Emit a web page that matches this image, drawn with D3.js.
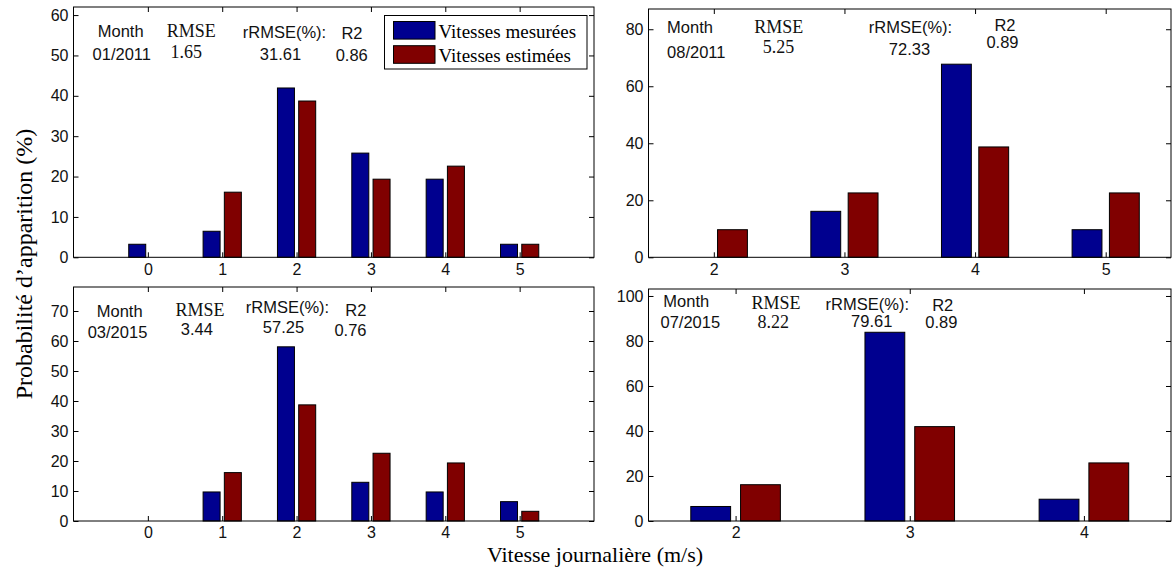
<!DOCTYPE html>
<html>
<head>
<meta charset="utf-8">
<script src="https://cdn.jsdelivr.net/npm/d3@7"></script>
<style>
  html, body { margin: 0; padding: 0; background: #fff; }
  svg { display: block; }
  .sans { font-family: "Liberation Sans", Arial, sans-serif; }
  .serif { font-family: "Liberation Serif", "Times New Roman", serif; }
</style>
</head>
<body>
<svg id="chart" width="1176" height="567"></svg>
<script>
// Daily wind-speed classes (m/s) and occurrence probabilities (%) per month
const speedsJan2011 = [0, 1, 2, 3, 4, 5];
const measuredJan2011 = [3.23, 6.45, 41.94, 25.81, 19.35, 3.23];
const estimatedJan2011 = [0, 16.13, 38.71, 19.35, 22.58, 3.23];

const speedsAug2011 = [2, 3, 4, 5];
const measuredAug2011 = [0, 16.13, 67.74, 9.68];
const estimatedAug2011 = [9.68, 22.58, 38.71, 22.58];

const speedsMar2015 = [0, 1, 2, 3, 4, 5];
const measuredMar2015 = [0, 9.68, 58.06, 12.90, 9.68, 6.45];
const estimatedMar2015 = [0, 16.13, 38.71, 22.58, 19.35, 3.23];

const speedsJul2015 = [2, 3, 4];
const measuredJul2015 = [6.45, 83.87, 9.68];
const estimatedJul2015 = [16.13, 41.94, 25.81];

// Error statistics shown inside each panel
const months = ["01/2011", "08/2011", "03/2015", "07/2015"];
const rmseValues = ["1.65", "5.25", "3.44", "8.22"];
const rrmseValues = ["31.61", "72.33", "57.25", "79.61"];
const r2Values = ["0.86", "0.89", "0.76", "0.89"];

// Axis tick values
const yTicksJan2011 = [0, 10, 20, 30, 40, 50, 60];
const yTicksAug2011 = [0, 20, 40, 60, 80];
const yTicksMar2015 = [0, 10, 20, 30, 40, 50, 60, 70];
const yTicksJul2015 = [0, 20, 40, 60, 80, 100];

const seriesNames = ["Vitesses mesurées", "Vitesses estimées"];
const colors = ["#00008f", "#800000"];

// Panel layout: plot box in pixels, axis limits, annotation anchors
const panels = [
  { box: [73.5, 7, 594, 257.3], xDom: [-1, 6], yMax: 62,
    cats: speedsJan2011, meas: measuredJan2011, est: estimatedJan2011, yTicks: yTicksJan2011, serifRmse: true,
    ann: [[120.7, 36.7], [121.8, 60], [191.2, 37.3], [186.3, 58.3], [284.5, 38.3], [280.5, 60], [352, 39.3], [351.7, 61]] },
  { box: [648.5, 9, 1171, 257.3], xDom: [1.5, 5.5], yMax: 87.1,
    cats: speedsAug2011, meas: measuredAug2011, est: estimatedAug2011, yTicks: yTicksAug2011, serifRmse: true,
    ann: [[690, 33.3], [696.3, 58.3], [778.7, 33.3], [778.5, 53.3], [910.5, 33.3], [909.5, 55], [1005, 31], [1002.5, 48.3]] },
  { box: [73.5, 287, 594, 521], xDom: [-1, 6], yMax: 78,
    cats: speedsMar2015, meas: measuredMar2015, est: estimatedMar2015, yTicks: yTicksMar2015, serifRmse: false,
    ann: [[119.7, 316.7], [117.5, 337.7], [200, 315.7], [196.8, 335], [287.5, 313.3], [283.5, 333.3], [355.8, 315.7], [350.5, 335.7]] },
  { box: [648.5, 289, 1171, 521], xDom: [1.5, 4.5], yMax: 103.1,
    cats: speedsJul2015, meas: measuredJul2015, est: estimatedJul2015, yTicks: yTicksJul2015, serifRmse: true,
    ann: [[686.3, 307.3], [690.3, 328.3], [776, 309], [773.3, 328.3], [867.3, 310], [871.7, 326.7], [942.7, 310.7], [941.3, 328.3]] }
];

const svg = d3.select("#chart");

// Grouped-bar geometry: two bars per speed class
const groupWidth = Math.min(0.8, 2 / 3.5);
const barWidth = groupWidth / 2 * 0.8;
const offsets = [-groupWidth / 4, groupWidth / 4];

panels.forEach((p, i) => {
  const [x0, y0, x1, y1] = p.box;
  const x = d3.scaleLinear().domain(p.xDom).range([x0, x1]);
  const y = d3.scaleLinear().domain([0, p.yMax]).range([y1, y0]);
  const g = svg.append("g");

  // bars
  [p.meas, p.est].forEach((vals, s) => {
    g.selectAll(null)
      .data(p.cats.map((c, k) => ({ c, v: vals[k] })))
      .join("rect")
      .attr("x", d => x(d.c + offsets[s] - barWidth / 2))
      .attr("width", d => x(d.c + offsets[s] + barWidth / 2) - x(d.c + offsets[s] - barWidth / 2))
      .attr("y", d => y(d.v))
      .attr("height", d => y(0) - y(d.v))
      .attr("fill", colors[s])
      .attr("stroke", "#000")
      .attr("stroke-width", 1);
  });

  const xTickVals = p.cats.length === 6 ? p.cats : d3.range(Math.ceil(p.xDom[0]), Math.floor(p.xDom[1]) + 1);

  const styleAxis = sel => {
    sel.select(".domain").remove();
    sel.selectAll("line").attr("stroke", "#000");
    sel.selectAll("text").attr("class", "sans").attr("font-size", 16).attr("fill", "#111");
  };

  g.append("g").attr("transform", `translate(${x0},0)`)
    .call(d3.axisLeft(y).tickValues(p.yTicks).tickSize(-5).tickPadding(5).tickFormat(d3.format("d")))
    .call(styleAxis);
  g.append("g").attr("transform", `translate(${x1},0)`)
    .call(d3.axisRight(y).tickValues(p.yTicks).tickSize(-5).tickFormat(""))
    .call(styleAxis);
  g.append("g").attr("transform", `translate(0,${y1})`)
    .call(d3.axisBottom(x).tickValues(xTickVals).tickSize(-5).tickPadding(6).tickFormat(d3.format("d")))
    .call(styleAxis);
  g.append("g").attr("transform", `translate(0,${y0})`)
    .call(d3.axisTop(x).tickValues(xTickVals).tickSize(-5).tickFormat(""))
    .call(styleAxis);

  // plot box
  g.append("rect")
    .attr("x", x0).attr("y", y0)
    .attr("width", x1 - x0).attr("height", y1 - y0)
    .attr("fill", "none").attr("stroke", "#000").attr("stroke-width", 1);

  // statistics
  const labels = [
    ["Month", "sans", 16.5], [months[i], "sans", 16.5],
    ["RMSE", "serif", 18], [rmseValues[i], p.serifRmse ? "serif" : "sans", p.serifRmse ? 18 : 16.5],
    ["rRMSE(%):", "sans", 16.5], [rrmseValues[i], "sans", 16.5],
    ["R2", "sans", 16.5], [r2Values[i], "sans", 16.5]
  ];
  labels.forEach(([t, fam, size], k) => {
    g.append("text")
      .attr("class", fam)
      .attr("x", p.ann[k][0]).attr("y", p.ann[k][1])
      .attr("text-anchor", "middle")
      .attr("font-size", size)
      .attr("fill", "#111")
      .text(t);
  });
});

// legend in the first panel
const legend = svg.append("g");
legend.append("rect")
  .attr("x", 384.5).attr("y", 15.5).attr("width", 202.5).attr("height", 53.5)
  .attr("fill", "#fff").attr("stroke", "#000").attr("stroke-width", 1);
seriesNames.forEach((name, s) => {
  legend.append("rect")
    .attr("x", 393.5).attr("y", 21.5 + s * 24.2).attr("width", 41.5).attr("height", 17.6)
    .attr("fill", colors[s]).attr("stroke", "#000").attr("stroke-width", 1);
  legend.append("text")
    .attr("class", "serif")
    .attr("x", 438.5).attr("y", 37.5 + s * 24.5)
    .attr("font-size", 19)
    .attr("fill", "#000")
    .text(name);
});

// axis titles
svg.append("text")
  .attr("class", "serif")
  .attr("transform", "translate(32,264) rotate(-90)")
  .attr("text-anchor", "middle")
  .attr("font-size", 24)
  .attr("fill", "#000")
  .text("Probabilité d’apparition (%)");

svg.append("text")
  .attr("class", "serif")
  .attr("x", 595).attr("y", 561.5)
  .attr("text-anchor", "middle")
  .attr("font-size", 22)
  .attr("fill", "#000")
  .text("Vitesse journalière (m/s)");
</script>
</body>
</html>
